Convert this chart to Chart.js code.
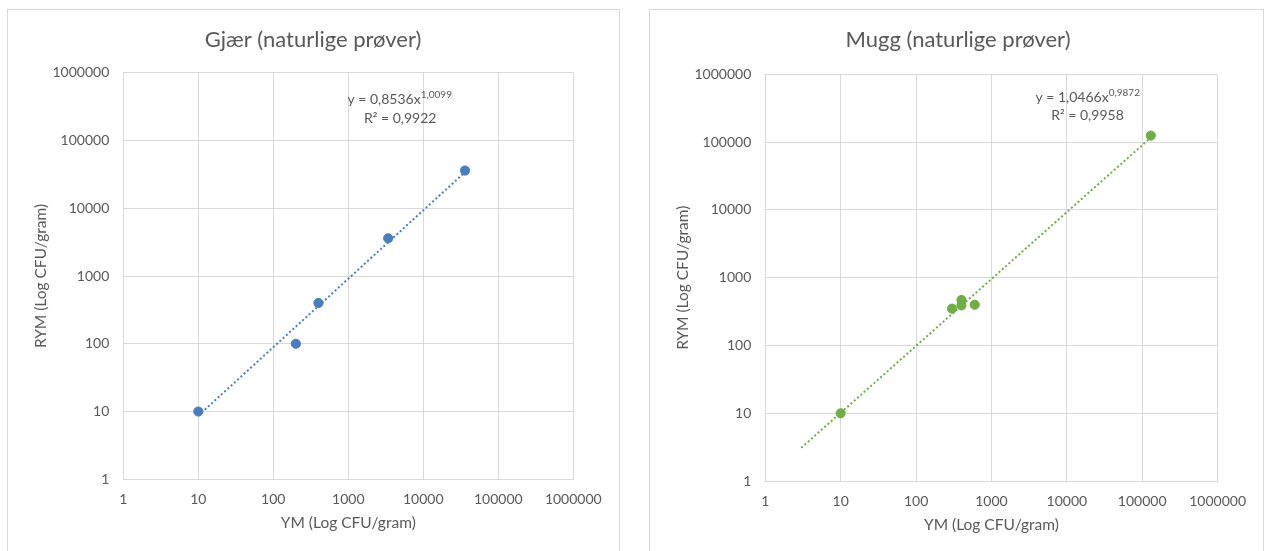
<!DOCTYPE html>
<html><head><meta charset="utf-8">
<script src="https://cdn.jsdelivr.net/npm/chart.js@4.4.1/dist/chart.umd.min.js"></script>
<style>
html,body{margin:0;padding:0;background:#fff;width:1264px;height:551px;overflow:hidden;}
.box{position:absolute;border:1px solid #d9d9d9;box-sizing:border-box;background:#fff;}
canvas{position:absolute;}
</style></head><body>
<div class="box" style="left:7px;top:9px;width:613px;height:560px"></div>
<div class="box" style="left:649px;top:9px;width:615px;height:560px"></div>
<canvas id="c1" style="left:8px;top:10px;width:610px;height:560px" width="610" height="560"></canvas>
<canvas id="c2" style="left:650px;top:10px;width:612px;height:560px" width="612" height="560"></canvas>
<script>
// ---- data ----
const tickValues = [1, 10, 100, 1000, 10000, 100000, 1000000];
const tickLabels = ['1', '10', '100', '1000', '10000', '100000', '1000000'];

const gjaerTitle = 'Gjær (naturlige prøver)';
const gjaerYM  = [10, 200, 400, 3400, 36000];
const gjaerRYM = [10, 100, 400, 3600, 36000];
const gjaerTrendX = [10, 36000];
const gjaerTrendY = [8.7, 34000];
const gjaerEq = ['y = 0,8536x', '1,0099', 'R² = 0,9922'];

const muggTitle = 'Mugg (naturlige prøver)';
const muggYM  = [10, 300, 400, 400, 600, 130000];
const muggRYM = [10, 350, 470, 390, 400, 125000];
const muggTrendX = [3, 130000];
const muggTrendY = [3.1, 117000];
const muggEq = ['y = 1,0466x', '0,9872', 'R² = 0,9958'];

const xTitle = 'YM (Log CFU/gram)';
const yTitle = 'RYM (Log CFU/gram)';

// ---- styling ----
const FONT = 'Lato';
const TXT = '#595959';
const GRID = '#d9d9d9';

const textPlugin = {
  id: 'extraText',
  afterDatasetsDraw(chart, args, opts) {
    const ctx = chart.ctx;
    ctx.save();
    ctx.fillStyle = TXT;
    ctx.textBaseline = 'middle';
    // chart title, centred on the chart box
    ctx.font = '22px ' + FONT;
    ctx.textAlign = 'center';
    ctx.fillText(opts.title, opts.tx, opts.ty);
    // trendline equation
    const mainFont = '14px ' + FONT;
    const supFont = '10px ' + FONT;
    ctx.font = mainFont;
    const w1 = ctx.measureText(opts.eq[0]).width;
    ctx.font = supFont;
    const w2 = ctx.measureText(opts.eq[1]).width;
    const x0 = opts.cx - (w1 + w2) / 2;
    ctx.textAlign = 'left';
    ctx.font = mainFont;
    ctx.fillText(opts.eq[0], x0, opts.y1);
    ctx.font = supFont;
    ctx.fillText(opts.eq[1], x0 + w1, opts.y1 - 5);
    ctx.font = mainFont;
    ctx.textAlign = 'center';
    ctx.fillText(opts.eq[2], opts.cx2, opts.y2);
    ctx.restore();
  }
};

function makeChart(id, cfg) {
  const pts = cfg.xs.map((x, i) => ({x: x, y: cfg.ys[i]}));
  const trend = cfg.tx.map((x, i) => ({x: x, y: cfg.ty[i]}));
  const axisCommon = (isX) => ({
    type: 'logarithmic',
    min: 1, max: 1000000,
    afterBuildTicks: s => { s.ticks = tickValues.map(v => ({value: v})); },
    afterFit: s => { if (isX) s.height = 60; else s.width = cfg.yW; },
    ticks: {
      autoSkip: false, maxRotation: 0,
      color: TXT, font: {family: FONT, size: 14},
      padding: isX ? 11.6 : 14,
      callback: (v, i) => tickLabels[i]
    },
    grid: {color: GRID, drawTicks: false, lineWidth: 1},
    border: {color: GRID},
    title: {
      display: true, text: isX ? xTitle : yTitle, color: TXT,
      font: {family: FONT, size: 15.5},
      padding: isX ? {top: 0, bottom: 6.7} : {top: 23.7, bottom: 0}
    }
  });
  return new Chart(document.getElementById(id), {
    type: 'scatter',
    data: {
      datasets: [
        {
          type: 'line', data: trend, borderColor: cfg.color, borderWidth: 2,
          borderDash: [2, 2.4], pointRadius: 0, fill: false, tension: 0, order: 2
        },
        {
          data: pts, backgroundColor: cfg.color, borderColor: cfg.color,
          pointRadius: 4.6, borderWidth: 1, order: 1
        }
      ]
    },
    options: {
      responsive: false, animation: false,
      layout: {padding: {left: 0, right: cfg.padR, top: cfg.padT, bottom: cfg.padB}},
      plugins: {
        legend: {display: false}, tooltip: {enabled: false},
        title: {display: false},
        extraText: cfg.textOpts
      },
      scales: {x: axisCommon(true), y: axisCommon(false)}
    },
    plugins: [textPlugin]
  });
}

makeChart('c1', {
  xs: gjaerYM, ys: gjaerRYM, tx: gjaerTrendX, ty: gjaerTrendY,
  color: '#4a7ebb',
  yW: 115.3, padR: 44.7, padB: 30.7, padT: 62.7,
  textOpts: {title: gjaerTitle, tx: 305, ty: 29.5,
             eq: gjaerEq, cx: 391.7, y1: 89.5, cx2: 392.2, y2: 108}
});
makeChart('c2', {
  xs: muggYM, ys: muggRYM, tx: muggTrendX, ty: muggTrendY,
  color: '#70ad47',
  yW: 115.3, padR: 44.4, padB: 28.9, padT: 64.4,
  textOpts: {title: muggTitle, tx: 308, ty: 29.5,
             eq: muggEq, cx: 437.7, y1: 87.7, cx2: 437.5, y2: 105.7}
});
</script>
</body></html>
